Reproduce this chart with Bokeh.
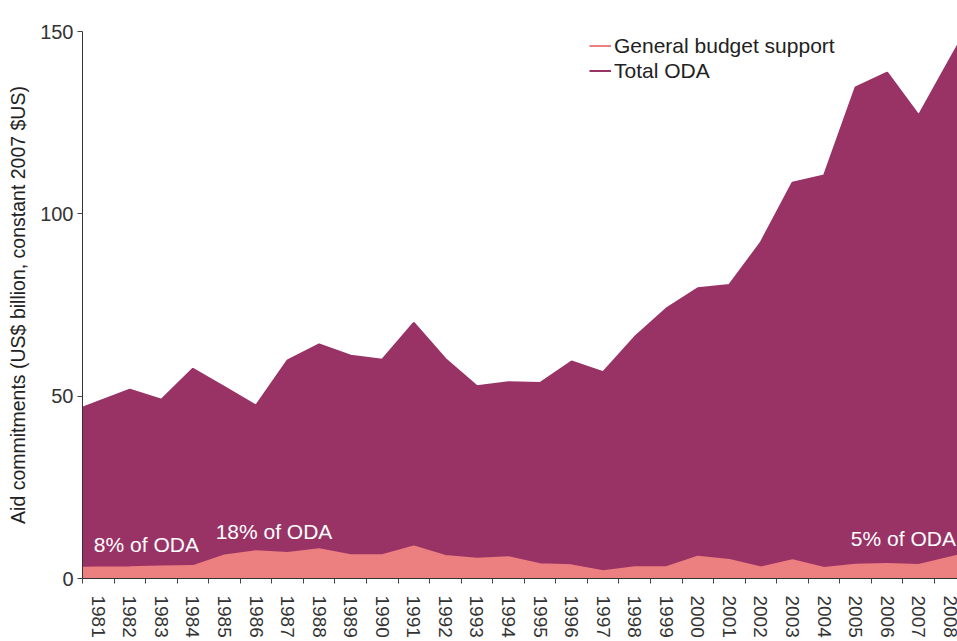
from bokeh.plotting import figure
from bokeh.models import FixedTicker, Range1d, Legend, LegendItem, Label, ColumnDataSource
from bokeh.embed import file_html
from bokeh.resources import INLINE

# ---- data ----
years = [str(y) for y in range(1981, 2009)]
total_oda = [48.5, 51.8, 49.0, 57.5, 52.5, 47.4, 59.8, 64.2, 61.1, 60.0,
             70.1, 60.2, 52.7, 53.8, 53.6, 59.5, 56.6, 66.2, 74.0, 79.6,
             80.5, 92.2, 108.5, 110.5, 134.7, 138.7, 127.0, 142.5]
budget_support = [3.0, 3.1, 3.3, 3.4, 6.3, 7.5, 7.0, 8.0, 6.4, 6.4,
                  8.8, 6.2, 5.4, 5.8, 3.9, 3.6, 2.0, 3.1, 3.1, 6.0,
                  5.1, 3.0, 5.0, 2.9, 3.8, 4.0, 3.7, 5.8]
y_ticks = [0, 50, 100, 150]
annotations = [("8% of ODA", 0.36, 9.3), ("18% of ODA", 4.22, 12.9), ("5% of ODA", 24.35, 11.0)]

FONT = "Liberation Sans"
PURPLE = "#993366"
PINK = "#EC7F7F"

n = len(years)
centers = [i + 0.5 for i in range(n)]
bounds = list(range(n + 1))


def extend(vals):
    # straight-line continuation of the first/last segment to the plot edges
    left = vals[0] - 0.5 * (vals[1] - vals[0])
    right = vals[-1] + 0.5 * (vals[-1] - vals[-2])
    return [left] + list(vals) + [right]


xs = [0] + centers + [n]
src_total = ColumnDataSource(dict(x=xs, y=extend(total_oda)))
src_gbs = ColumnDataSource(dict(x=xs, y=extend(budget_support)))

p = figure(width=957, height=641, output_backend="svg", toolbar_location=None,
           x_range=Range1d(0, 27.73), y_range=Range1d(0, 150),
           min_border_left=82, min_border_right=0, min_border_top=31, min_border_bottom=63)
p.outline_line_color = None
p.grid.visible = False
p.background_fill_color = "white"
p.border_fill_color = "white"

r_total = p.varea(x="x", y1=0, y2="y", source=src_total, fill_color=PURPLE)
r_gbs = p.varea(x="x", y1=0, y2="y", source=src_gbs, fill_color=PINK)
# edge lines in the fill colours (also give the legend its line swatches)
l_tot = p.line(x="x", y="y", source=src_total, line_color=PURPLE, line_width=2)
l_gbs = p.line(x="x", y="y", source=src_gbs, line_color=PINK, line_width=2)

legend = Legend(items=[LegendItem(label="General budget support", renderers=[l_gbs]),
                       LegendItem(label="Total ODA", renderers=[l_tot])],
                location=(507, 495), padding=0, margin=0, spacing=0,
                glyph_width=22, glyph_height=25, label_height=25, label_standoff=3,
                border_line_color=None, background_fill_alpha=0,
                label_text_font=FONT, label_text_font_size="21px", label_text_color="#222222")
p.add_layout(legend, "center")

# x axis: labels centred in each year band, tick marks on band boundaries
xa = p.xaxis[0]
xa.ticker = FixedTicker(ticks=centers, minor_ticks=bounds)
xa.major_label_overrides = {c: y for c, y in zip(centers, years)}
xa.major_label_orientation = "vertical"
xa.major_tick_out = 0
xa.major_tick_in = 0
xa.minor_tick_out = 5
xa.minor_tick_in = 0
xa.minor_tick_line_color = "#444444"
xa.axis_line_color = "#333333"
xa.major_label_standoff = 12
xa.major_label_text_font = FONT
xa.major_label_text_font_size = "19px"
xa.major_label_text_color = "#333333"

ya = p.yaxis[0]
ya.ticker = FixedTicker(ticks=y_ticks, minor_ticks=[])
ya.major_tick_out = 5
ya.major_tick_in = 0
ya.major_tick_line_color = "#444444"
ya.axis_line_color = "#333333"
ya.major_label_standoff = 4
ya.major_label_text_font = FONT
ya.major_label_text_font_size = "20px"
ya.major_label_text_color = "#333333"
ya.axis_label = "Aid commitments (US$ billion, constant 2007 $US)"
ya.axis_label_text_font = FONT
ya.axis_label_text_font_size = "19.5px"
ya.axis_label_text_font_style = "normal"
ya.axis_label_text_color = "#222222"
ya.axis_label_standoff = 8

for txt, ax, ay in annotations:
    p.add_layout(Label(x=ax, y=ay, text=txt, text_color="white", text_font=FONT,
                       text_font_size="21px", text_baseline="middle", text_align="left"))

open("out.html", "w").write(file_html(p, INLINE))
